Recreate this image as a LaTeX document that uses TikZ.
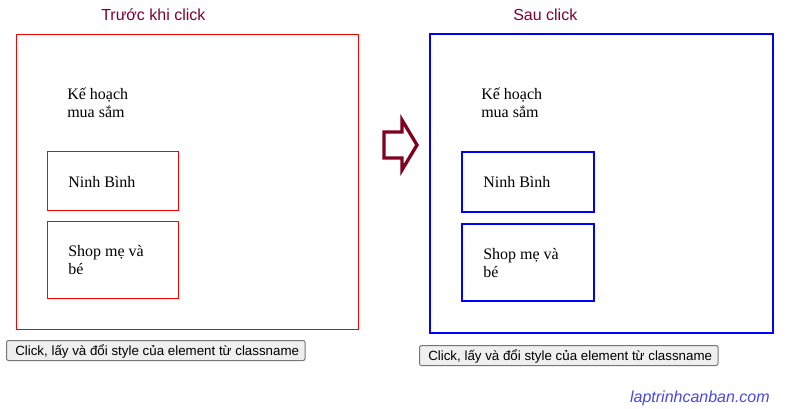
\documentclass[tikz,border=0pt]{standalone}
\usepackage{fontspec}
\setmainfont{Liberation Serif}
\setsansfont{Liberation Sans}
\definecolor{titlecolor}{RGB}{128,0,48}
\definecolor{arrowcolor}{RGB}{128,0,32}
\definecolor{btnfill}{RGB}{239,239,239}
\definecolor{btnborder}{RGB}{118,118,118}
\definecolor{markcolor}{RGB}{72,72,232}

\begin{document}
\begin{tikzpicture}
  [x=0.75pt,y=-0.75pt,
   % Styles
   title text/.style={font=\sffamily\fontsize{12}{14}\selectfont,text=titlecolor,anchor=base west,inner sep=0pt},
   item text/.style={font=\fontsize{12}{13.5}\selectfont,align=left,anchor=base west,inner sep=0pt},
   before box/.style={draw=red,line width=0.75pt},
   after box/.style={draw=blue,line width=1.5pt},
   button/.style={draw=btnborder,fill=btnfill,line width=0.75pt,rounded corners=1.5pt},
   button text/.style={font=\sffamily\fontsize{10}{12}\selectfont,anchor=base west,inner sep=0pt}]

  \useasboundingbox (0,0) rectangle (790,408);

  % Truoc khi click
  \node[title text] (title before) at (101,20) {Trước khi click};
  \draw[before box] (16,34) rectangle (358,329);
  \node[item text] (plan before) at (67,117) {Kế hoạch\\mua sắm};
  \draw[before box] (47,151) rectangle (178,210);
  \node[item text] (ninh before) at (68,187) {Ninh Bình};
  \draw[before box] (47,221) rectangle (178,298);
  \node[item text] (shop before) at (68,274) {Shop mẹ và\\bé};
  \draw[button] (6.5,340.5) rectangle (305,360.5);
  \node[button text] (btn before) at (15,355) {Click, lấy và đổi style của element từ classname};

  % The arrow
  \draw[arrowcolor,line width=2.5pt,line join=miter]
    (384,132) -- (402,132) -- (402,120) -- (417,145) -- (402,170) -- (402,158) -- (384,158) -- cycle;

  % Sau click
  \node[title text] (title after) at (513,20) {Sau click};
  \draw[after box] (430,34) rectangle (773,333);
  \node[item text] (plan after) at (481,117) {Kế hoạch\\mua sắm};
  \draw[after box] (462,152) rectangle (594,212);
  \node[item text] (ninh after) at (483,187) {Ninh Bình};
  \draw[after box] (462,224) rectangle (594,301);
  \node[item text] (shop after) at (483,277) {Shop mẹ và\\bé};
  \draw[button] (419.5,345.5) rectangle (718,365.5);
  \node[button text] (btn after) at (428,360) {Click, lấy và đổi style của element từ classname};

  \node[font=\sffamily\itshape\fontsize{12}{14}\selectfont,text=markcolor,anchor=base east,inner sep=0pt]
    (site) at (770,402) {laptrinhcanban.com};
\end{tikzpicture}
\end{document}
